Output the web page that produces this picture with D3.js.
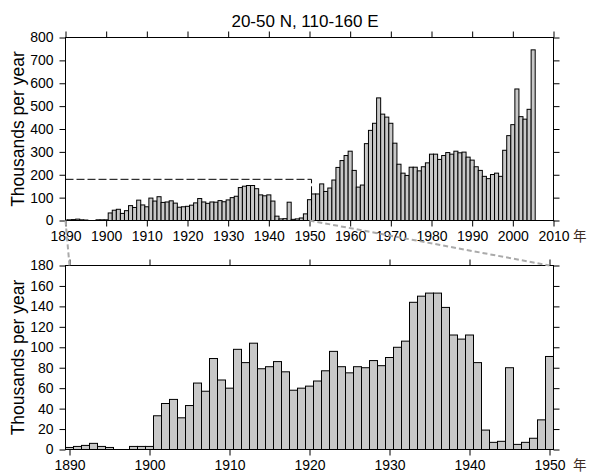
<!DOCTYPE html>
<html>
<head>
<meta charset="utf-8">
<script src="https://cdn.jsdelivr.net/npm/d3@7"></script>
<style>
  html, body { margin: 0; padding: 0; background: #fff; }
  svg { display: block; }
  text { font-family: "Liberation Sans", Arial, Helvetica, sans-serif; fill: #000; }
</style>
</head>
<body>
<svg id="chart" width="589" height="473"></svg>
<script>
// Annual counts (thousands per year), one value per year starting at firstYear
const firstYear = 1890;
const earlyValues = [
  2, 3, 4, 6, 3, 2, 0, 0, 3, 3, 3,          // 1890-1900
  33, 45, 49, 31, 43, 65, 57, 89, 68, 60,   // 1901-1910
  98, 85, 104, 79, 81, 86, 76, 58, 60, 62,  // 1911-1920
  67, 77, 96, 81, 75, 81, 80, 87, 82, 90,   // 1921-1930
  100, 106, 144, 150, 153, 153, 139, 112, 108, 112, // 1931-1940
  85, 19, 7, 8, 80, 5, 7, 11, 29, 91        // 1941-1950
];
const lateValues = [
  116, 116, 160, 127, 142, 177, 232, 262, 284, 303, // 1951-1960
  219, 146, 155, 336, 394, 425, 536, 465, 452, 425, // 1961-1970
  338, 246, 207, 197, 233, 233, 217, 235, 252, 290, // 1971-1980
  290, 267, 284, 297, 290, 303, 296, 299, 277, 264, // 1981-1990
  235, 219, 193, 183, 201, 207, 193, 307, 371, 419, // 1991-2000
  575, 454, 443, 486, 746                           // 2001-2005
];

const title = "20-50 N, 110-160 E";
const yTitle = "Thousands per year";
const yearUnit = "年";
const topXTicks = [1890, 1900, 1910, 1920, 1930, 1940, 1950, 1960, 1970, 1980, 1990, 2000, 2010];
const topYTicks = [0, 100, 200, 300, 400, 500, 600, 700, 800];
const botXTicks = [1890, 1900, 1910, 1920, 1930, 1940, 1950];
const botYTicks = [0, 20, 40, 60, 80, 100, 120, 140, 160, 180];
const zoomBox = { x0: 1889.5, x1: 1950.5, y0: 0, y1: 180 };

const allData = earlyValues.concat(lateValues).map((v, i) => ({ year: firstYear + i, value: v }));
const earlyData = earlyValues.map((v, i) => ({ year: firstYear + i, value: v }));

const svg = d3.select("#chart");
const barFill = "#c8c8c8";

// Panel geometry
const L = 65.5, R = 553.5;
const boxTop = { y0: 37.5, y1: 220.5 };
const boxBot = { y0: 265.5, y1: 449.5 };

const xTop = d3.scaleLinear().domain([1890, 2010]).range([L, R]);
const yTop = d3.scaleLinear().domain([0, 800]).range([boxTop.y1, boxTop.y0]);
const xBot = d3.scaleLinear().domain([zoomBox.x0, zoomBox.x1]).range([L, R]);
const yBot = d3.scaleLinear().domain([0, 180]).range([boxBot.y1, boxBot.y0]);

// clip paths
const defs = svg.append("defs");
defs.append("clipPath").attr("id", "clipTop").append("rect")
  .attr("x", L).attr("y", boxTop.y0 - 1).attr("width", R - L).attr("height", boxTop.y1 - boxTop.y0 + 1);
defs.append("clipPath").attr("id", "clipBot").append("rect")
  .attr("x", L).attr("y", boxBot.y0 - 1).attr("width", R - L).attr("height", boxBot.y1 - boxBot.y0 + 1);

function drawBars(g, data, x, y, clipId) {
  g.append("g").attr("clip-path", `url(#${clipId})`)
    .selectAll("rect").data(data.filter(d => d.value > 0)).join("rect")
    .attr("x", d => x(d.year - 0.5))
    .attr("width", d => x(d.year + 0.5) - x(d.year - 0.5))
    .attr("y", d => y(d.value))
    .attr("height", d => y(0) - y(d.value))
    .attr("fill", barFill)
    .attr("stroke", "#000")
    .attr("stroke-width", 1);
}

function drawFrame(g, x, y, xTicks, yTicks, box) {
  const tl = 6;
  const styleAxis = sel => {
    sel.select(".domain").remove();
    sel.selectAll(".tick line").attr("stroke", "#000").attr("stroke-width", 1);
    sel.selectAll("text").style("font-size", "14px")
      .attr("font-family", "'Liberation Sans', Arial, sans-serif").attr("fill", "#000");
  };
  g.append("g").attr("transform", `translate(0,${box.y1})`)
    .call(d3.axisBottom(x).tickValues(xTicks).tickFormat(d3.format("d")).tickSize(tl).tickPadding(5))
    .call(styleAxis);
  g.append("g").attr("transform", `translate(0,${box.y0})`)
    .call(d3.axisTop(x).tickValues(xTicks).tickFormat("").tickSize(tl))
    .call(styleAxis);
  g.append("g").attr("transform", `translate(${L},0)`)
    .call(d3.axisLeft(y).tickValues(yTicks).tickSize(tl).tickPadding(6))
    .call(styleAxis);
  g.append("g").attr("transform", `translate(${R},0)`)
    .call(d3.axisRight(y).tickValues(yTicks).tickFormat("").tickSize(tl))
    .call(styleAxis);
  g.append("rect").attr("x", L).attr("y", box.y0)
    .attr("width", R - L).attr("height", box.y1 - box.y0)
    .attr("fill", "none").attr("stroke", "#000").attr("stroke-width", 1);
}

// Top panel: full record
const gTop = svg.append("g");
drawBars(gTop, allData, xTop, yTop, "clipTop");

// Dashed outline of the enlarged period
gTop.append("path")
  .attr("d", d3.line()([
    [xTop(zoomBox.x0 + 0.5), yTop(zoomBox.y1)],
    [xTop(zoomBox.x1), yTop(zoomBox.y1)],
    [xTop(zoomBox.x1), yTop(0)]
  ]))
  .attr("fill", "none").attr("stroke", "#000").attr("stroke-width", 1)
  .attr("stroke-dasharray", "8,3");

drawFrame(gTop, xTop, yTop, topXTicks, topYTicks, boxTop);

// Bottom panel: enlarged early period
const gBot = svg.append("g");
drawBars(gBot, earlyData, xBot, yBot, "clipBot");
drawFrame(gBot, xBot, yBot, botXTicks, botYTicks, boxBot);

// Grey connector lines between the panels
const connectors = [
  [[xTop(1890), yTop(0)], [xBot(1890), yBot(180)]],
  [[xTop(1950), yTop(0)], [xBot(1950), yBot(180)]]
];
svg.append("g").selectAll("path").data(connectors).join("path")
  .attr("d", d => d3.line()(d))
  .attr("fill", "none").attr("stroke", "#aaaaaa").attr("stroke-width", 2)
  .attr("stroke-dasharray", "5,3");

// Title
svg.append("text").attr("x", 305).attr("y", 27)
  .attr("text-anchor", "middle").style("font-size", "17px").text(title);

// Y axis titles
[boxTop, boxBot].forEach(box => {
  svg.append("text")
    .attr("transform", `translate(24,${(box.y0 + box.y1) / 2}) rotate(-90)`)
    .attr("text-anchor", "middle").style("font-size", "17.5px").text(yTitle);
});

// Year unit labels
[boxTop, boxBot].forEach(box => {
  svg.append("text").attr("x", 573).attr("y", box.y1 + 20)
    .style("font-family", "'Noto Sans CJK SC', sans-serif").style("font-size", "13.5px")
    .style("fill", "#3d2b1f").text(yearUnit);
});
</script>
</body>
</html>
